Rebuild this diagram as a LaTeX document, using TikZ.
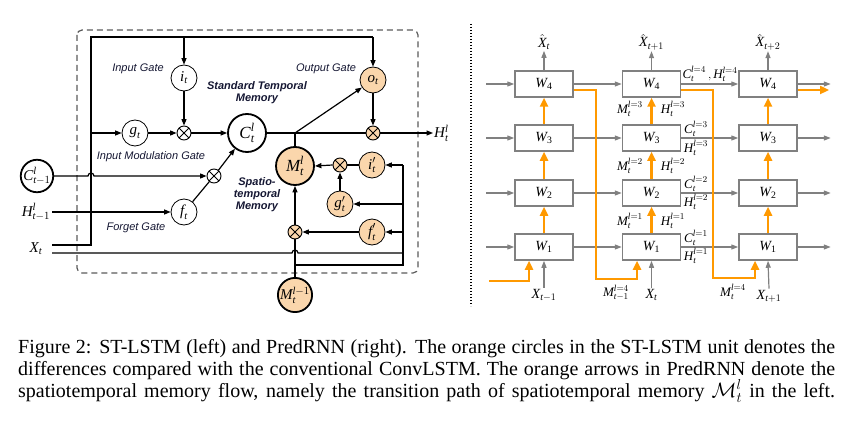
\documentclass[tikz,border=0pt]{standalone}
\usepackage{amsmath}
\usepackage{fontspec}
\setmainfont{Liberation Serif}
\newfontfamily\sansfam{Liberation Sans}
\usetikzlibrary{arrows.meta,calc}
\definecolor{peach}{RGB}{250,214,172}
\definecolor{orng}{RGB}{255,153,0}
\definecolor{gry}{RGB}{128,128,128}
\definecolor{lbl}{RGB}{20,22,50}
\newcommand\vi[1]{\text{\itshape #1}}
\begin{document}
\begin{tikzpicture}[x=1pt,y=-1pt,
 ln/.style={line width=1.2pt},
 arr/.style={ln,-{Triangle[length=6.5pt,width=5pt]}},
 gate/.style={circle,draw,line width=0.8pt,minimum size=26pt,inner sep=0pt,font=\fontsize{15}{15}\selectfont},
 ogate/.style={gate,fill=peach},
 big/.style={circle,draw,line width=1.8pt,inner sep=0pt,font=\fontsize{17}{17}\selectfont},
 mult/.style={circle,draw,line width=0.9pt,minimum size=14pt,inner sep=0pt,fill=#1,
   path picture={\draw[line width=0.9pt] (path picture bounding box.south west) -- (path picture bounding box.north east)
     (path picture bounding box.north west) -- (path picture bounding box.south east);}},
 mult/.default=white,
 glabel/.style={font=\sansfam\itshape\fontsize{11}{12}\selectfont,text=lbl,inner sep=0pt},
 blabel/.style={font=\sansfam\bfseries\itshape\fontsize{11}{12}\selectfont,text=lbl,align=center,inner sep=0pt},
 wbox/.style={draw=gry,line width=1.5pt,minimum width=58pt,minimum height=26pt,inner sep=0pt,font=\fontsize{14}{14}\selectfont},
 garr/.style={draw=gry,color=gry,line width=1.2pt,-{Triangle[length=7pt,width=5pt]}},
 oarr/.style={draw=orng,color=orng,line width=2.6pt,-{Triangle[length=9pt,width=8pt]}},
 slab/.style={font=\fontsize{13}{13}\selectfont,inner sep=0pt},
 xlab/.style={font=\fontsize{14}{14}\selectfont,inner sep=1pt},
 caplab/.style={anchor=base west,inner sep=0pt,font=\fontsize{20}{22}\selectfont},
]
\useasboundingbox (0,0) rectangle (851,425);

% ---------------- left: ST-LSTM ----------------
\draw[draw={rgb,255:red,90;green,90;blue,90},line width=1.2pt,dash pattern=on 6pt off 4pt,rounded corners=5pt] (77,30) rectangle (418,273);

\node[gate] (iG) at (184,78) {$\vi{i}_{\vi{t}}$};
\node[gate] (gG) at (135,133) {$\vi{g}_{\vi{t}}$};
\node[mult] (m1) at (184,133) {};
\node[big,minimum size=38pt] (C) at (247,133) {$\vi{C}^{\vi{l}}_{\vi{t}}$};
\node[ogate] (oG) at (373,80) {$\vi{o}_{\vi{t}}$};
\node[mult=peach] (m3) at (373,133) {};
\node[anchor=west,inner sep=1pt,font=\fontsize{15}{15}\selectfont] (Ho) at (433,133) {$\vi{H}^{\vi{l}}_{\vi{t}}$};
\coordinate (J) at (295,133);
\node[big,minimum size=38pt,fill=peach] (M) at (295,166) {$\vi{M}^{\vi{l}}_{\vi{t}}$};
\node[mult=peach] (m4) at (340,165) {};
\node[ogate] (ip) at (372,165) {$\vi{i}'_{\vi{t}}$};
\node[ogate] (gp) at (340,204) {$\vi{g}'_{\vi{t}}$};
\node[ogate] (fp) at (372,232) {$\vi{f}'_{\vi{t}}$};
\node[mult=peach] (m5) at (295,232) {};
\node[big,minimum size=32pt,fill=peach,font=\fontsize{15}{15}\selectfont] (Mp) at (295,295) {$\vi{M}^{\vi{l}-1}_{\vi{t}}$};
\node[big,minimum size=31pt,font=\fontsize{15}{15}\selectfont] (Cp) at (37,176) {$\vi{C}^{\vi{l}}_{\vi{t}-1}$};
\node[inner sep=2pt,font=\fontsize{15}{15}\selectfont] (Hp) at (36,212) {$\vi{H}^{\vi{l}}_{\vi{t}-1}$};
\node[inner sep=0pt,font=\fontsize{15}{15}\selectfont] (Xl) at (36,249) {$\vi{X}_{\vi{t}}$};
\node[gate] (fG) at (184,212) {$\vi{f}_{\vi{t}}$};
\node[mult] (m2) at (214,176) {};

\node[glabel] (lIG) at (138,69) {Input Gate};
\node[glabel] (lIM) at (151,157) {Input Modulation Gate};
\node[glabel] (lFG) at (136,228) {Forget Gate};
\node[glabel] (lOG) at (326,69) {Output Gate};
\node[blabel] (lSTM) at (257,93) {Standard Temporal\\Memory};
\node[blabel] (lSPM) at (257,195) {Spatio-\\temporal\\Memory};

\coordinate (xa) at (52,245);
\coordinate (xb) at (52,253);
\coordinate (lb0) at (91,245);
\coordinate (lb1) at (91,37);
\coordinate (tr) at (373,37);
\coordinate (bA) at (295,265);
\coordinate (bB) at (403,265);
\coordinate (bC) at (403,165);

% left bus and top line
\draw[ln] (xa) -- (lb0) -- (lb1) -- (tr);
\draw[arr] (tr) -- (oG.north);
\draw[arr] (lb1 -| iG) -- (iG.north);
\draw[arr] (lb1 |- gG) -- (gG.west);
\draw[arr] (Hp.east) -- (fG.west);
\fill (lb1 |- Hp) circle (1.8pt);
\draw[arr] (Cp.east) -- (88,176) arc[start angle=180,end angle=360,radius=3] -- (m2.west);
\draw[ln] (fG) -- (m2);
\draw[arr] (m2) -- (C);
\draw[arr] (iG.south) -- (m1.north);
\draw[arr] (gG.east) -- (m1.west);
\draw[arr] (m1.east) -- (C.west);
\draw[ln] (C.east) -- (m3.west);
\draw[arr] (oG.south) -- (m3.north);
\draw[arr] (m3.east) -- (Ho.west);
\draw[arr] (J) -- (oG);
\draw[ln] (M.north) -- (J);
% spatiotemporal part
\draw[ln] (ip.west) -- (m4.east);
\draw[arr] (m4.west) -- (M.east);
\draw[arr] (gp.north) -- (m4.south);
\draw[arr] (fp.west) -- (m5.east);
\draw[arr] (m5.north) -- (M.south);
\draw[ln] (Mp.north) -- (m5.south);
\draw[ln] (bA) -- (bB) -- (bC);
\draw[arr] (bC) -- (ip.east);
\draw[arr] (bB |- gp) -- (gp.east);
\draw[arr] (bB |- fp) -- (fp.east);
\draw[ln] (xb) -- (292,253) arc[start angle=180,end angle=360,radius=3] -- (bB |- xb);

% separator
\draw[line width=1.2pt,dash pattern=on 1.4pt off 1.6pt] (471,24) -- (471,306);

% ---------------- right: PredRNN ----------------
\foreach \c/\x in {1/544,2/651.5,3/768}{
  \foreach \r/\y in {1/247,2/193,3/138,4/84}{
    \node[wbox] (W\c\r) at (\x,\y) {$\vi{W}_{\text{\r}}$};
  }
}
\node[xlab] (Xh1) at (544,42) {$\hat{\vi{X}}_{\vi{t}}$};
\node[xlab] (Xh2) at (651.5,42) {$\hat{\vi{X}}_{\vi{t}+1}$};
\node[xlab] (Xh3) at (768,42) {$\hat{\vi{X}}_{\vi{t}+2}$};
\node[xlab] (Xi1) at (544,295) {$\vi{X}_{\vi{t}-1}$};
\node[xlab] (Xi2) at (651.5,295) {$\vi{X}_{\vi{t}}$};
\node[xlab] (Xi3) at (769,296) {$\vi{X}_{\vi{t}+1}$};
\foreach \c in {1,2,3}{
  \draw[garr] (W\c4.north) -- (Xh\c.south);
  \draw[garr] (Xi\c.north) -- (W\c1.south);
  \foreach \r/\s in {1/2,2/3,3/4}{
    \draw[oarr] (W\c\r.north) -- (W\c\s.south);
  }
}
\foreach \r in {1,2,3,4}{
  \coordinate (gin\r) at ($(W1\r.west)+(-28,0)$);
  \coordinate (gout\r) at ($(W3\r.east)+(33,0)$);
  \draw[garr] (gin\r) -- (W1\r.west);
  \draw[garr] (W1\r.east) -- (W2\r.west);
  \draw[garr] (W2\r.east) -- (W3\r.west);
  \draw[garr] (W3\r.east) -- (gout\r);
}
% orange memory flow
\coordinate (oin) at (489,281);
\draw[oarr] (oin) -| ($(W11.south)+(-15,0)$);
\coordinate (oc1) at (596,90);
\coordinate (od1) at (596,279);
\draw[oarr] ($(W14.east)+(0,6)$) -- (oc1) -- (od1) -| ($(W21.south)+(-14.5,0)$);
\coordinate (oc2) at (713,90);
\coordinate (od2) at (713,278);
\draw[oarr] ($(W24.east)+(0,6)$) -- (oc2) -- (od2) -| ($(W31.south)+(-13,0)$);
\coordinate (oout) at (829,90);
\draw[oarr] ($(W34.east)+(0,6)$) -- (oout);

% labels col2
\node[slab] (lM3) at (630,109) {$\vi{M}^{\vi{l}=3}_{\vi{t}}$};
\node[slab] (lH3) at (673,109) {$\vi{H}^{\vi{l}=3}_{\vi{t}}$};
\node[slab] (lM2) at (630,166) {$\vi{M}^{\vi{l}=2}_{\vi{t}}$};
\node[slab] (lH2) at (673,166) {$\vi{H}^{\vi{l}=2}_{\vi{t}}$};
\node[slab] (lM1) at (630,221) {$\vi{M}^{\vi{l}=1}_{\vi{t}}$};
\node[slab] (lH1) at (673,221) {$\vi{H}^{\vi{l}=1}_{\vi{t}}$};
\node[slab] (lCH4) at (710,74) {$\vi{C}^{\vi{l}=4}_{\vi{t}}\,,\vi{H}^{\vi{l}=4}_{\vi{t}}$};
\node[slab] (lC3) at (696,129) {$\vi{C}^{\vi{l}=3}_{\vi{t}}$};
\node[slab] (lHH3) at (696,148) {$\vi{H}^{\vi{l}=3}_{\vi{t}}$};
\node[slab] (lC2) at (696,184) {$\vi{C}^{\vi{l}=2}_{\vi{t}}$};
\node[slab] (lHH2) at (696,202) {$\vi{H}^{\vi{l}=2}_{\vi{t}}$};
\node[slab] (lC1) at (696,238) {$\vi{C}^{\vi{l}=1}_{\vi{t}}$};
\node[slab] (lHH1) at (696,256) {$\vi{H}^{\vi{l}=1}_{\vi{t}}$};
\node[slab] (lMb2) at (616,293) {$\vi{M}^{\vi{l}=4}_{\vi{t}-1}$};
\node[slab] (lMb3) at (733,292) {$\vi{M}^{\vi{l}=4}_{\vi{t}}$};

% ---------------- caption ----------------
\node[caplab] (cap1) at (18,353) {\makebox[817pt][s]{Figure 2: ST-LSTM (left) and PredRNN (right). The orange circles in the ST-LSTM unit denotes the}};
\node[caplab] (cap2) at (18,375) {\makebox[817pt][s]{differences compared with the conventional ConvLSTM. The orange arrows in PredRNN denote the}};
\node[caplab] (cap3) at (18,397) {\makebox[817pt][s]{spatiotemporal memory flow, namely the transition path of spatiotemporal memory $\mathcal{M}_t^l$ in the left.}};
\end{tikzpicture}
\end{document}
